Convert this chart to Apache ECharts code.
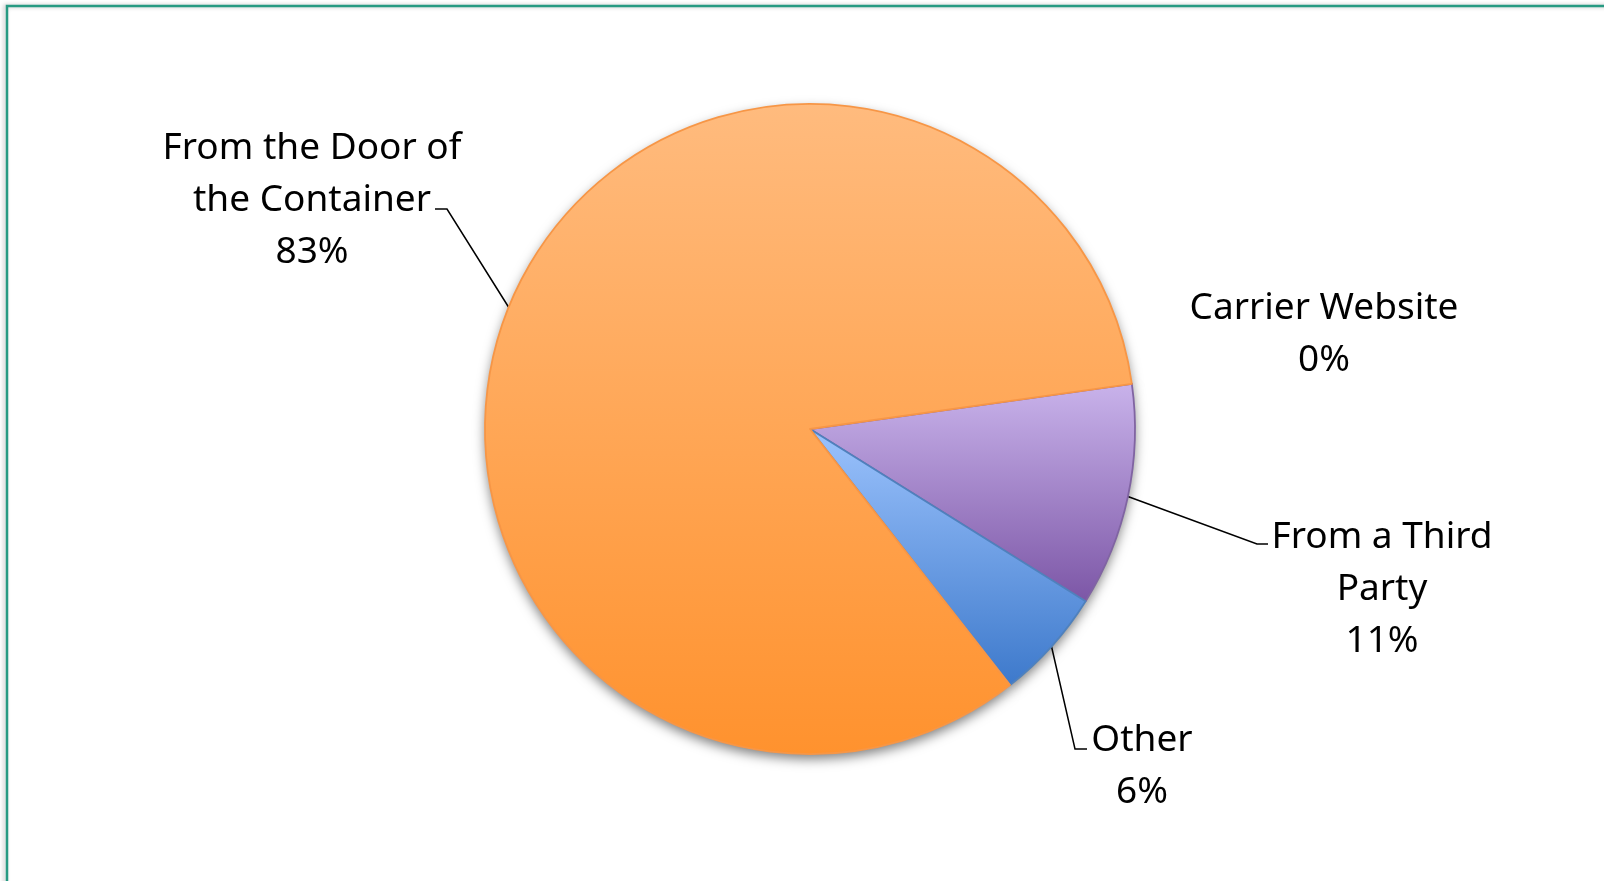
<!DOCTYPE html>
<html>
<head>
<meta charset="utf-8">
<script src="https://cdn.jsdelivr.net/npm/echarts@6/dist/echarts.min.js"></script>
<style>
  html, body { margin: 0; padding: 0; background: #ffffff; }
  #chart { width: 1604px; height: 881px; }
</style>
</head>
<body>
<div id="chart"></div>
<script>
// ---- data ----
var categories = ['Carrier Website', 'From a Third\nParty', 'Other', 'From the Door of\nthe Container'];
var counts = [0, 2, 1, 15];

// ---- styles ----
var fillTop = ['#C9B3EB', '#C9B3EB', '#9CC3FD', '#FFBB7E'];
var fillBottom = ['#7C56A6', '#7C56A6', '#3D79CB', '#FF922E'];
var edgeColors = ['#8064A2', '#8064A2', '#4F81BD', '#F79646'];
// label anchor (center of text block) and leader-line bend / end per slice
var labelCenters = [[1324, 334], [1382, 589], [1142, 766], [312, 200]];
var leaderBend = [null, [1257, 544], [1075, 749], [447, 209]];
var leaderEnd = [null, [1268, 544], [1087, 749], [435, 209]];

var chart = echarts.init(document.getElementById('chart'), null, { renderer: 'canvas' });

var mainData = categories.map(function (c, i) {
  return {
    name: c,
    value: counts[i],
    itemStyle: {
      color: {
        type: 'linear', x: 0, y: 0, x2: 0, y2: 1,
        colorStops: [{ offset: 0, color: fillTop[i] }, { offset: 1, color: fillBottom[i] }]
      },
      borderColor: edgeColors[i]
    },
    labelLine: { show: leaderBend[i] !== null }
  };
});
var shadowData = categories.map(function (c, i) {
  return { name: c, value: counts[i] };
});

var option = {
  animation: false,
  backgroundColor: '#ffffff',
  graphic: [{
    type: 'rect',
    shape: { x: 7, y: 6, width: 1700, height: 1000 },
    style: {
      fill: 'none', stroke: '#279A82', lineWidth: 2.5,
      shadowBlur: 4, shadowColor: 'rgba(0,0,0,0.25)', shadowOffsetX: -2, shadowOffsetY: 0
    },
    silent: true, z: 100
  }],
  series: [
    {
      type: 'pie',
      silent: true,
      center: [810, 429],
      radius: 325,
      startAngle: 8,
      clockwise: true,
      avoidLabelOverlap: false,
      data: shadowData,
      itemStyle: {
        color: '#ffffff',
        shadowBlur: 12,
        shadowOffsetY: 5,
        shadowColor: 'rgba(0,0,0,0.5)'
      },
      label: { show: false },
      labelLine: { show: false },
      z: 1
    },
    {
      type: 'pie',
      silent: true,
      center: [810, 429],
      radius: 325,
      startAngle: 8,
      clockwise: true,
      avoidLabelOverlap: false,
      minShowLabelAngle: 0,
      data: mainData,
      itemStyle: { borderWidth: 1.8 },
      label: {
        show: true,
        position: 'outside',
        fontFamily: 'Noto Sans',
        fontSize: 37,
        lineHeight: 52,
        color: '#000000',
        align: 'center',
        formatter: function (p) {
          return p.name + '\n' + Math.round(p.percent) + '%';
        }
      },
      labelLine: {
        show: true,
        length: 20,
        length2: 10,
        lineStyle: { color: '#000000', width: 1.5 }
      },
      labelLayout: function (params) {
        var i = params.dataIndex;
        var res = {
          x: labelCenters[i][0],
          y: labelCenters[i][1],
          align: 'center',
          verticalAlign: 'middle'
        };
        if (leaderBend[i] && params.labelLinePoints) {
          var pts = params.labelLinePoints;
          res.labelLinePoints = [pts[0], leaderBend[i], leaderEnd[i]];
        }
        return res;
      },
      z: 2
    }
  ]
};
chart.setOption(option);
</script>
</body>
</html>
